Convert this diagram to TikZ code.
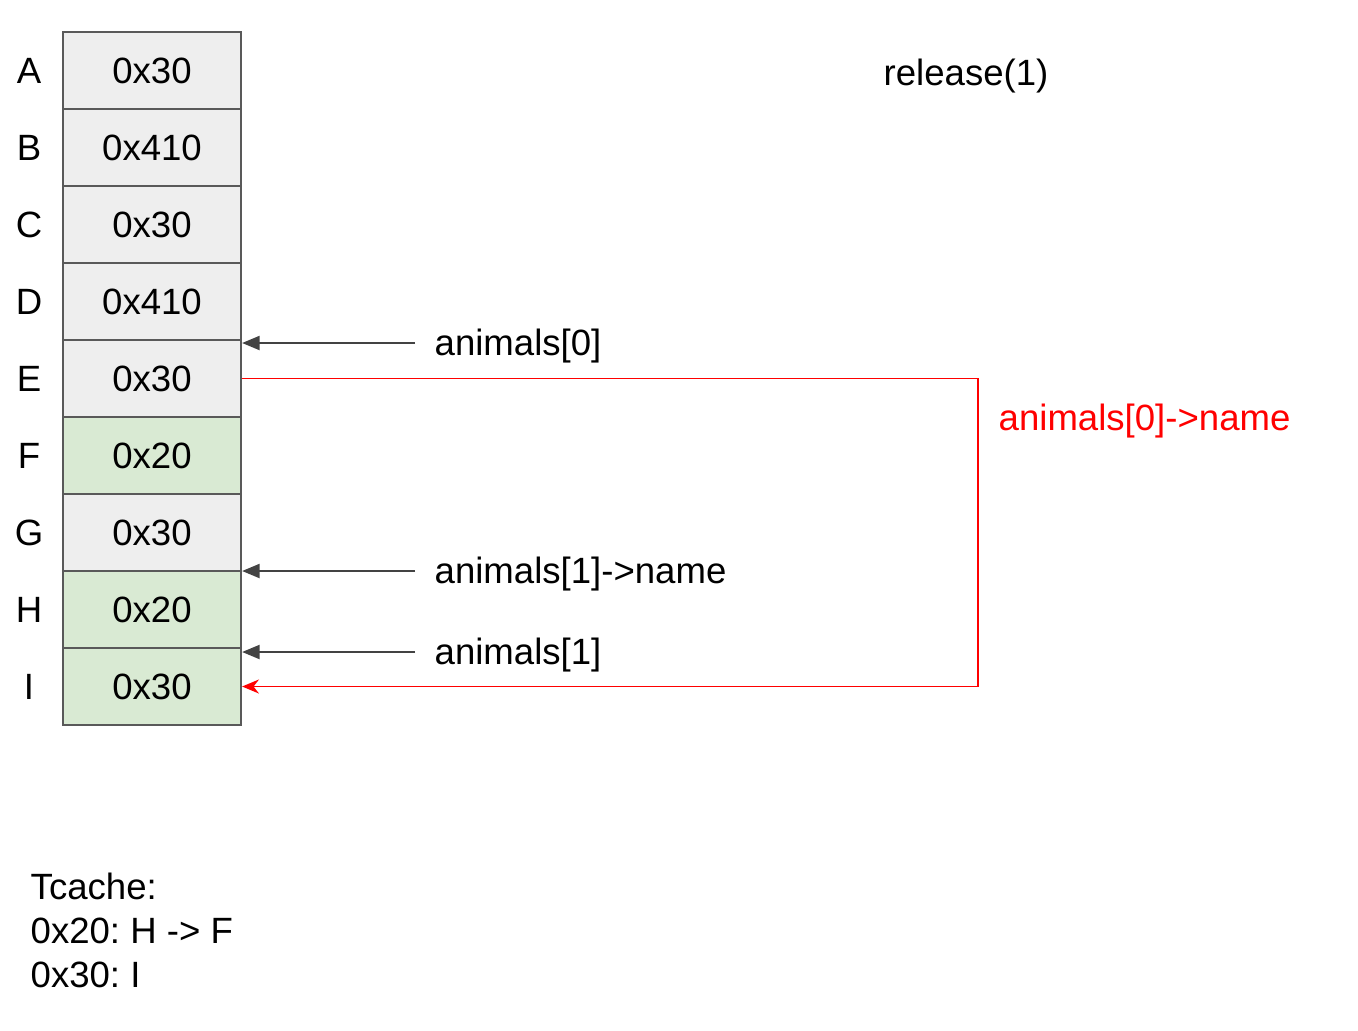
\documentclass[tikz,border=0pt]{standalone}
\usepackage{fontspec}
\setmainfont{Liberation Sans}
\usetikzlibrary{arrows.meta}
\definecolor{cell_grey}{RGB}{238,238,238}
\definecolor{cell_green}{RGB}{217,234,211}
\definecolor{edge_grey}{RGB}{89,89,89}
\definecolor{arrow_grey}{RGB}{67,67,67}
\definecolor{ptr_red}{RGB}{255,0,0}
\frenchspacing

\begin{document}
\begin{tikzpicture}[x=0.01cm,y=-0.01cm,font=\fontsize{10.4}{12.5}\selectfont,
	cell/.style={draw=edge_grey,line width=0.6pt,minimum width=1.78cm,minimum height=0.77cm,inner sep=0pt},
	ptr/.style={draw=arrow_grey,line width=0.6pt,-{Triangle[length=5pt,width=4pt]}},
	redptr/.style={draw=ptr_red,line width=0.45pt,-{Stealth[length=4.8pt,width=4pt]}},
	lbl/.style={anchor=west,inner sep=0pt}]
	\useasboundingbox (0,0) rectangle (1358,1030);

	\foreach \n/\v/\c [count=\i from 0] in {A/0x30/cell_grey,B/0x410/cell_grey,C/0x30/cell_grey,D/0x410/cell_grey,E/0x30/cell_grey,F/0x20/cell_green,G/0x30/cell_grey,H/0x20/cell_green,I/0x30/cell_green}
	{
		\node[cell,fill=\c] (\n) at (152,70.5+77*\i) {\v};
		\node (l\n) at (29,70.5+77*\i) {\n};
	}

	\coordinate (a0) at (415,343);
	\coordinate (a1name) at (415,571);
	\coordinate (a1) at (415,652);
	\coordinate (bend) at (978,0);

	\node[lbl] (ta0) at (434,346) {animals[0]};
	\node[lbl] (ta1name) at (434,574) {animals[1]->name};
	\node[lbl] (ta1) at (434,655) {animals[1]};
	\node[lbl,text=ptr_red] (ta0name) at (998,421) {animals[0]->name};
	\node[lbl] (release) at (883,76) {release(1)};
	\node[anchor=north west,align=left,inner sep=0pt] (tcache) at (30,872) {Tcache:\\0x20: H -> F\\0x30: I};

	\foreach \p in {a0,a1name,a1}
		\draw[ptr] (\p) -- (\p -| E.east);
	\draw[redptr] (E.east) -- (E.east -| bend) -- (I.east -| bend) -- (I.east);
\end{tikzpicture}
\end{document}
